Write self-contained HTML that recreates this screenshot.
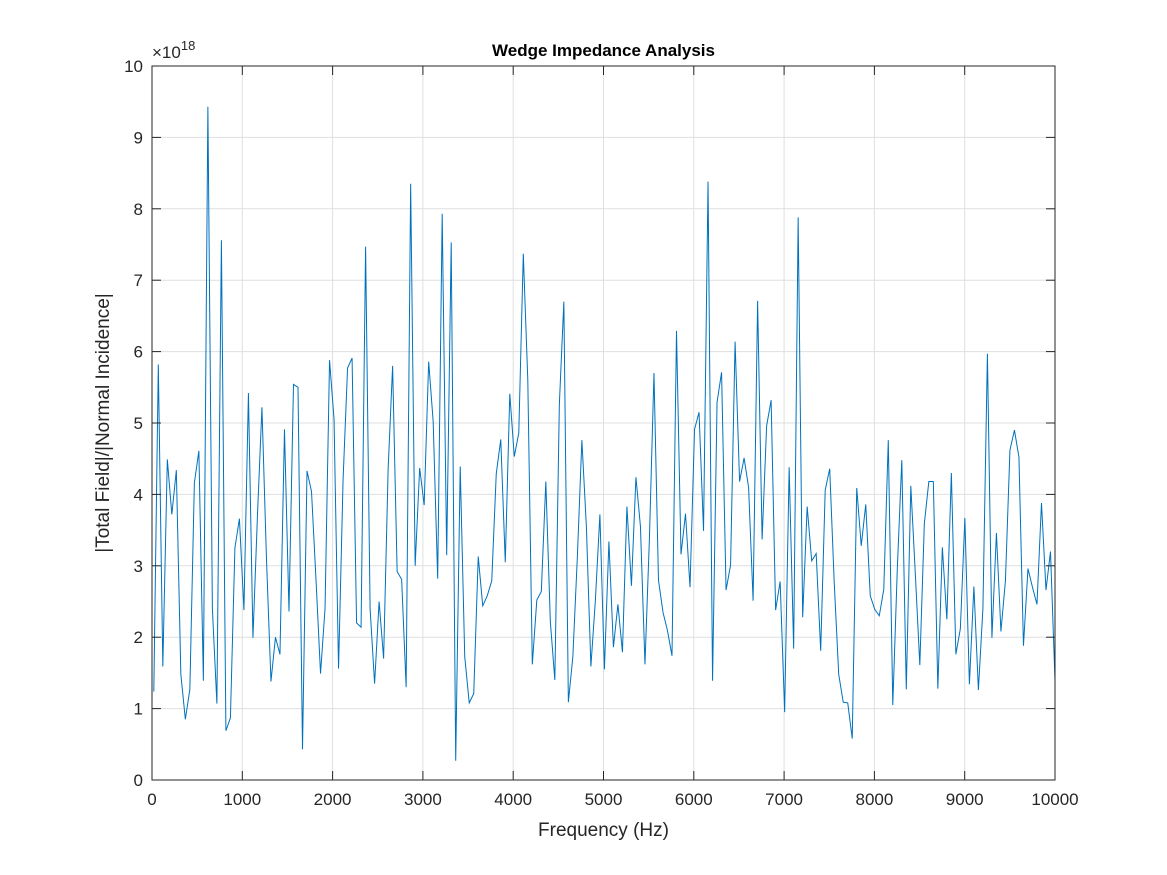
<!DOCTYPE html>
<html><head><meta charset="utf-8"><style>
html,body{margin:0;padding:0;background:#fff;}
svg{display:block;font-family:"Liberation Sans",Arial,sans-serif;}
</style></head><body>
<svg id="chart" width="1167" height="875" viewBox="0 0 1167 875" xmlns="http://www.w3.org/2000/svg">
<rect x="0" y="0" width="1167" height="875" fill="#fff"/>
<rect x="152" y="66" width="903" height="714" fill="#fff"/>
<g id="grid"></g>
<g id="series"></g>
<g id="axes"></g>
<text x="603.5" y="56" text-anchor="middle" font-size="17" font-weight="bold" fill="#000">Wedge Impedance Analysis</text>
<text x="603.5" y="836" text-anchor="middle" font-size="19" fill="#262626">Frequency (Hz)</text>
<text transform="translate(109,423) rotate(-90)" text-anchor="middle" font-size="19" fill="#262626">|Total Field|/|Normal Incidence|</text>
<text x="152" y="58" font-size="17" fill="#262626">×10<tspan font-size="13" dy="-8">18</tspan></text>
</svg>
<script>
const yValues = [1.24,5.82,1.59,4.49,3.72,4.34,1.48,0.85,1.27,4.16,4.61,1.39,9.43,2.4,1.07,7.56,0.69,0.87,3.25,3.66,
2.38,5.42,1.99,3.7,5.22,3.1,1.38,2.0,1.76,4.91,2.36,5.54,5.5,0.43,4.33,4.04,2.8,1.49,2.4,5.88,
5.05,1.56,4.2,5.77,5.91,2.2,2.14,7.47,2.4,1.35,2.5,1.7,4.35,5.8,2.92,2.81,1.3,8.35,3.0,4.37,
3.85,5.86,5.02,2.82,7.93,3.15,7.53,0.27,4.39,1.73,1.08,1.21,3.13,2.44,2.58,2.79,4.29,4.77,3.05,5.41,
4.53,4.86,7.37,5.6,1.62,2.52,2.64,4.18,2.22,1.4,5.26,6.7,1.09,1.73,3.13,4.76,3.55,1.59,2.52,3.72,
1.55,3.34,1.86,2.46,1.79,3.83,2.72,4.24,3.55,1.62,3.4,5.7,2.8,2.35,2.09,1.74,6.29,3.16,3.73,2.7,
4.91,5.15,3.49,8.38,1.39,5.29,5.71,2.66,3.01,6.14,4.18,4.51,4.1,2.51,6.71,3.37,4.96,5.32,2.38,2.78,
0.95,4.38,1.84,7.88,2.28,3.83,3.07,3.17,1.81,4.06,4.36,2.77,1.48,1.09,1.08,0.58,4.09,3.28,3.86,2.58,
2.39,2.3,2.67,4.76,1.05,2.95,4.48,1.27,4.12,2.89,1.61,3.59,4.18,4.18,1.28,3.26,2.25,4.3,1.76,2.12,
3.67,1.34,2.71,1.26,2.4,5.97,1.99,3.46,2.08,2.79,4.62,4.9,4.52,1.88,2.96,2.7,2.46,3.88,2.66,3.2,1.39];
const freqStart = 20;
const freqEnd = 10000;
const xTicks = [0,1000,2000,3000,4000,5000,6000,7000,8000,9000,10000];
const yTicks = [0,1,2,3,4,5,6,7,8,9,10];

const NS = "http://www.w3.org/2000/svg";
const L=152,R=1055,T=66,B=780;
const xs = v => L + (v/10000)*(R-L);
const ys = v => B - (v/10)*(B-T);
function mk(tag, attrs, parent){const e=document.createElementNS(NS,tag);for(const k in attrs)e.setAttribute(k,attrs[k]);parent.appendChild(e);return e;}
const grid=document.getElementById('grid'), axes=document.getElementById('axes'), series=document.getElementById('series');
xTicks.forEach(t=>{
  const g=mk('line',{x1:xs(t),x2:xs(t),y1:T,y2:B,stroke:'#dfdfdf','stroke-width':1},grid);
  
  
  mk('line',{x1:xs(t),x2:xs(t),y1:B,y2:B-9,stroke:'#262626','stroke-width':1},axes);
  mk('line',{x1:xs(t),x2:xs(t),y1:T,y2:T+9,stroke:'#262626','stroke-width':1},axes);
  const tx=mk('text',{x:xs(t),y:B+25,'text-anchor':'middle','font-size':17,fill:'#262626'},axes);
  tx.textContent=t;
  
  
});
yTicks.forEach(t=>{
  const g=mk('line',{x1:L,x2:R,y1:ys(t),y2:ys(t),stroke:'#dfdfdf','stroke-width':1},grid);
  
  
  mk('line',{x1:L,x2:L+9,y1:ys(t),y2:ys(t),stroke:'#262626','stroke-width':1},axes);
  mk('line',{x1:R,x2:R-9,y1:ys(t),y2:ys(t),stroke:'#262626','stroke-width':1},axes);
  const tx=mk('text',{x:L-9,y:ys(t)+6,'text-anchor':'end','font-size':17,fill:'#262626'},axes);
  tx.textContent=t;
  
  
});
const box=mk('rect',{x:L,y:T,width:R-L,height:B-T,fill:'none',stroke:'#262626','stroke-width':1},axes);


const n=yValues.length;
const pts=yValues.map((v,i)=>xs(freqStart+(freqEnd-freqStart)*i/(n-1)).toFixed(2)+','+ys(v).toFixed(2)).join(' ');
const line=mk('polyline',{points:pts,fill:'none',stroke:'#0072BD','stroke-width':1,'stroke-linejoin':'miter'},series);


</script>
</body></html>
